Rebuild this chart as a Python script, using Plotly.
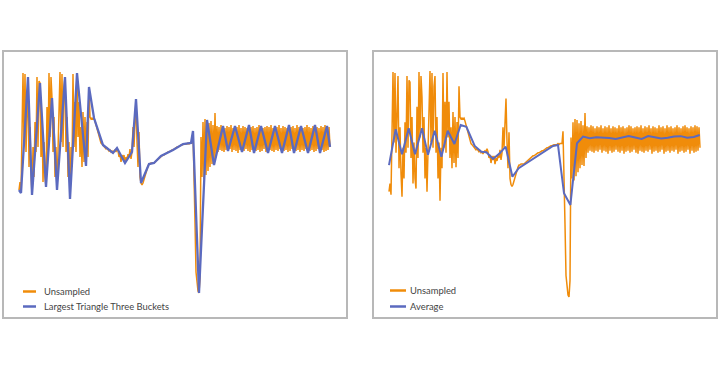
import plotly.graph_objects as go

# ---------------- data ----------------
# Unsampled signal (sample index = position in list), arbitrary units
unsampled = [
    127, 135, 124, 190, 244, 175, 243, 165, 215, 240,
    150, 190, 145, 122, 170, 140, 195, 165, 240, 170,
    236, 234, 160, 200, 135, 175, 140, 130, 210, 160,
    244, 180, 240, 219, 165, 200, 140, 170, 127, 160,
    205, 245, 175, 243, 170, 230, 240, 165, 200, 140,
    175, 118, 170, 150, 243, 170, 215, 165, 244, 180,
    215, 160, 190, 150, 205, 155, 200, 151, 195, 160,
    230, 200, 198, 199, 198, 199, 196, 192, 188, 184,
    180, 177, 174, 173, 172, 171, 170, 168, 169, 167,
    166, 167, 165, 166, 164, 166, 167, 165, 169, 166,
    160, 163, 155, 162, 158, 162, 154, 160, 157, 163,
    160, 168, 158, 165, 190, 170, 205, 218, 175, 150,
    185, 140, 134, 132, 134, 138, 142, 146, 149, 151,
    153, 153, 154, 154, 154, 154, 155, 156, 157, 158,
    159, 160, 161, 161, 162, 162, 163, 164, 164, 165,
    165, 166, 166, 167, 167, 168, 168, 169, 170, 170,
    171, 171, 172, 172, 173, 173, 173, 173, 173, 174,
    173, 174, 174, 174, 186, 150, 95, 45, 30, 26,
    24, 40, 180, 140, 195, 138, 198, 142, 197, 146,
    194, 150, 196, 153, 192, 152, 204, 160, 191, 165,
    190, 167, 192, 166, 191, 165, 189, 167, 191, 166,
    190, 168, 192, 165, 189, 167, 191, 166, 190, 164,
    192, 167, 189, 165, 191, 166, 190, 168, 189, 166,
    192, 165, 190, 167, 191, 164, 189, 166, 190, 167,
    192, 165, 191, 166, 189, 168, 190, 165, 191, 164,
    190, 167, 192, 166, 189, 165, 191, 167, 190, 166,
    192, 168, 189, 164, 191, 166, 190, 167, 189, 165,
    192, 166, 190, 168, 191, 164, 189, 166, 192, 167,
    190, 165, 191, 167, 189, 166, 190, 168, 192, 164,
    190, 166, 189, 167, 191, 165, 192, 166, 190, 168,
    189, 164, 191, 167, 190, 165, 192, 166, 191, 167,
    190, 170,
]
sample_index = list(range(len(unsampled)))

# Largest Triangle Three Buckets downsample
lttb_t = [0, 2, 9, 13, 21, 27, 33, 38, 46, 51, 58, 67, 70, 75, 84, 94, 98, 106,
          113, 117, 122, 130, 135, 142, 154, 164, 172, 174, 180, 188, 195,
          204, 209, 216, 223, 230, 235, 242, 249, 256, 263, 270, 275, 282,
          289, 296, 301, 308, 311]
lttb_v = [127, 124, 240, 122, 234, 130, 219, 127, 240, 118, 244, 151, 230, 199,
          172, 164, 169, 154, 165, 218, 134, 153, 154, 161, 167, 173, 174, 186,
          24, 197, 152, 191, 166, 191, 165, 192, 164, 191, 164, 191, 164, 192,
          164, 191, 164, 192, 164, 191, 170]

# Bucket average downsample
avg_t = [0, 6.7, 13, 19.7, 26, 33, 39, 45.7, 52.4, 58.7, 65.4, 71.7, 77.4, 85.7,
         92.4, 97.4, 104, 110.7, 116.7, 123.4, 129.7, 137.4, 147.4, 157.4, 164,
         169, 175, 181.4, 188, 194, 200.7, 207.2, 213.7, 220.2, 226.7, 233.2,
         239.7, 246.2, 252.7, 259.2, 265.7, 272.2, 278.7, 285.2, 291.7, 298.2,
         304.7, 310.7]
avg_v = [153, 188, 163.5, 189, 163.5, 189, 163, 186.6, 161.2, 186.6, 173.6,
         192.2, 190.5, 171.7, 166.1, 165.5, 159, 164.5, 171, 141.6, 149.9, 154.7,
         161.2, 167.7, 171.7, 172.6, 125.4, 114, 174.3, 180.8, 179.2, 180.2,
         180.2, 179.5, 178.5, 180, 181.4, 180, 178.6, 181.3, 180.5, 179, 179.8,
         181, 181.3, 179.8, 180.5, 182.4]

legend_left = ["Unsampled", "Largest Triangle Three Buckets"]
legend_right = ["Unsampled", "Average"]

# ---------------- style ----------------
W, H = 720, 368
ORANGE = "#f08c0a"
BLUE = "#5b6abf"
BORDER = "#b8b8b8"
TEXT = "#444444"
FONT = "Lato"

fig = go.Figure()
fig.add_trace(go.Scatter(x=sample_index, y=unsampled, mode="lines",
                         line=dict(color=ORANGE, width=1.5), xaxis="x", yaxis="y",
                         name=legend_left[0], showlegend=False))
fig.add_trace(go.Scatter(x=lttb_t, y=lttb_v, mode="lines",
                         line=dict(color=BLUE, width=2.3), xaxis="x", yaxis="y",
                         name=legend_left[1], showlegend=False))
fig.add_trace(go.Scatter(x=sample_index, y=unsampled, mode="lines",
                         line=dict(color=ORANGE, width=1.5), xaxis="x2", yaxis="y2",
                         name=legend_right[0], showlegend=False))
fig.add_trace(go.Scatter(x=avg_t, y=avg_v, mode="lines",
                         line=dict(color=BLUE, width=2), xaxis="x2", yaxis="y2",
                         name=legend_right[1], showlegend=False))

ax = dict(showgrid=False, zeroline=False, showticklabels=False, ticks="",
          showline=True, mirror=True, linecolor=BORDER, linewidth=1.5)
ydom = [(H - 317) / H, (H - 52) / H]
fig.update_layout(
    width=W, height=H, margin=dict(l=0, r=0, t=0, b=0),
    paper_bgcolor="white", plot_bgcolor="white",
    xaxis=dict(ax, domain=[4 / W, 346 / W], range=[-15, 327]),
    yaxis=dict(ax, domain=ydom, range=[0, 265]),
    xaxis2=dict(ax, domain=[374 / W, 716 / W], range=[-15, 327], anchor="y2"),
    yaxis2=dict(ax, domain=ydom, range=[4.4, 263.6], anchor="x2"),
)

def legend(x_line0, x_line1, x_text, rows, labels, colors):
    for yy, lab, col in zip(rows, labels, colors):
        fig.add_shape(type="line", xref="paper", yref="paper",
                      x0=x_line0 / W, x1=x_line1 / W, y0=1 - yy / H, y1=1 - yy / H,
                      line=dict(color=col, width=2.5))
        fig.add_annotation(x=x_text / W, y=1 - yy / H, xref="paper", yref="paper",
                           text=lab, showarrow=False, xanchor="left", yanchor="middle",
                           font=dict(family=FONT, size=9.4, color=TEXT))

legend(23, 36, 42, [291.5, 306.5], legend_left, [ORANGE, BLUE])
legend(390, 406, 408, [290.5, 306.5], legend_right, [ORANGE, BLUE])

fig.write_html("out.html", config={"displayModeBar": False},
               post_script="document.body.style.margin='0';document.body.style.overflow='hidden';")
